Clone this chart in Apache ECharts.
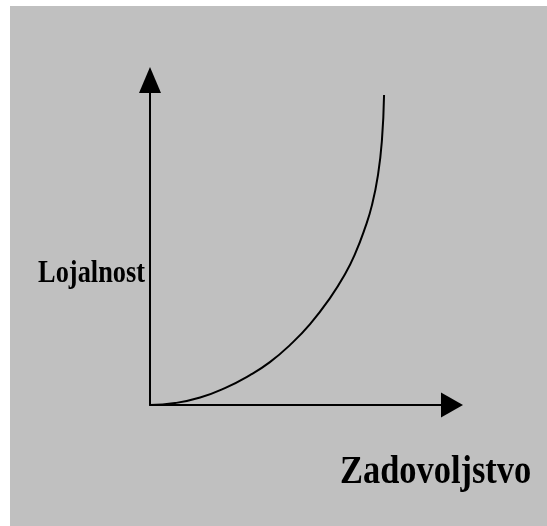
<!DOCTYPE html>
<html>
    <head>
        <meta charset="utf-8">
        <script src="https://cdn.jsdelivr.net/npm/echarts@6/dist/echarts.min.js"></script>
    </head>
    <body>
        <style>
            html, body {
                margin: 0;
                width: 100%;
                height: 100vh;
                background: #ffffff;
            }
            #main {
                position: absolute;
                left: 10px;
                top: 6px;
                width: 537px;
                height: 520px;
            }
        </style>

        <div id="main"></div>

        <script>
            // curve (both axes 0..100)
            const satisfaction = [0, 8.3, 16.6, 24.8, 33.1, 39.7, 46.4, 53.0, 59.6, 64.6, 67.9, 71.2, 73.5, 75.5, 76.8, 77.5];
            const loyalty = [0, 0.6, 2.3, 5.2, 9.2, 13.2, 18.5, 24.9, 32.9, 40.3, 46.5, 54.5, 61.5, 70.8, 81.5, 95.4];
            const xName = 'Zadovoljstvo';
            const yName = 'Lojalnost';

            var chart = echarts.init(document.querySelector('#main'));

            const axisLine = function (size) {
                return {
                    show: true,
                    symbol: ['none', 'triangle'],
                    symbolSize: size,
                    lineStyle: {color: '#000', width: 2}
                };
            };

            var option = {
                backgroundColor: '#c0c0c0',
                animation: false,
                grid: {left: 140, top: 74, right: 95, bottom: 121},
                xAxis: {
                    type: 'value', min: 0, max: 100,
                    axisLine: axisLine([25, 22]),
                    axisTick: {show: false},
                    axisLabel: {show: false},
                    splitLine: {show: false}
                },
                yAxis: {
                    type: 'value', min: 0, max: 100,
                    axisLine: axisLine([22, 26]),
                    axisTick: {show: false},
                    axisLabel: {show: false},
                    splitLine: {show: false}
                },
                graphic: [
                    {
                        type: 'text', x: 135, y: 268, scaleX: 0.85,
                        style: {
                            text: yName, textAlign: 'right', textVerticalAlign: 'middle',
                            font: 'bold 31px "Liberation Serif"', fill: '#000'
                        }
                    },
                    {
                        type: 'text', x: 330, y: 467, scaleX: 0.86,
                        style: {
                            text: xName, textAlign: 'left', textVerticalAlign: 'middle',
                            font: 'bold 40px "Liberation Serif"', fill: '#000'
                        }
                    }
                ],
                series: [{
                    type: 'line',
                    data: satisfaction.map((x, i) => [x, loyalty[i]]),
                    smooth: true,
                    symbol: 'none',
                    lineStyle: {color: '#000', width: 2}
                }]
            };

            chart.setOption(option);
        </script>
    </body>
</html>
